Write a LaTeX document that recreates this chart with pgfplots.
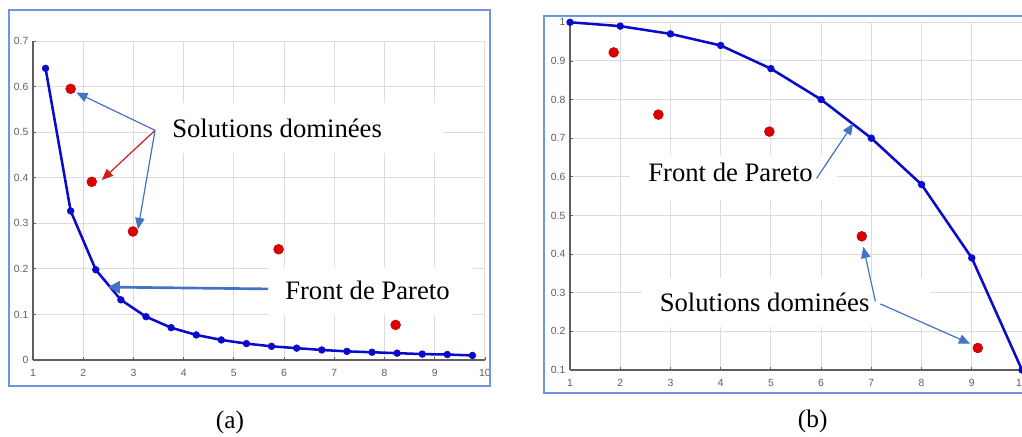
\documentclass[border=0pt]{standalone}
\usepackage{pgfplots}
\pgfplotsset{compat=1.18}
\usepackage{fontspec}
\setmainfont{Liberation Serif}
\newfontfamily\tickfont{Liberation Sans}
\usetikzlibrary{arrows.meta}
\definecolor{frameblue}{RGB}{110,150,220}
\definecolor{arrowblue}{RGB}{68,114,196}
\definecolor{lineblue}{RGB}{10,10,205}
\definecolor{dotred}{RGB}{220,0,0}
\definecolor{arrowred}{RGB}{205,30,30}
\definecolor{gridgray}{RGB}{220,220,220}
\definecolor{tickgray}{RGB}{95,95,95}
\pgfplotsset{
  mystyle/.style={
    scale only axis, axis lines*=left,
    xmin=1, xmax=10, xtick={1,2,3,4,5,6,7,8,9,10},
    grid=major, major grid style={gridgray, line width=0.75pt},
    axis line style={tickgray, line width=0.8pt},
    tick style={tickgray, line width=0.6pt},
    major tick length=2.5pt, tick align=inside,
    ticklabel style={font=\tickfont\fontsize{7.8}{8}\selectfont, text=tickgray},
    xticklabel style={yshift=-3.6pt},
    /pgf/number format/assume math mode=true,
    clip=false,
  },
}
\tikzset{
  front/.style={lineblue, line width=1.9pt, mark=*, mark size=2.5pt, mark options={fill=lineblue, draw=lineblue, line width=0.5pt}},
  dom/.style={only marks, mark=*, mark size=3.7pt, mark options={fill=dotred, draw=dotred!85!black, line width=0.4pt}},
  thinarrow/.style={arrowblue, line width=0.9pt, -{Triangle[length=8.5pt,width=7pt]}},
  bigfont/.style={font=\fontsize{20}{24}\selectfont}
}
\begin{document}
\begin{tikzpicture}
\path[use as bounding box, clip] (0,0) rectangle (766.5pt,327pt);
% ---------------- (a)
\begin{axis}[mystyle, at={(24.75pt,57pt)}, anchor=south west,
  width=339pt, height=239.25pt, ymin=0, ymax=0.7,
  ytick={0,0.1,0.2,0.3,0.4,0.5,0.6,0.7}]
\fill[white] (axis cs:3.29,0.454) rectangle (axis cs:9.17,0.564);
\fill[white] (axis cs:5.68,0.0987) rectangle (axis cs:9.76,0.204);
\addplot[front] coordinates {(1.25,0.640) (1.75,0.327) (2.25,0.198) (2.75,0.132) (3.25,0.095) (3.75,0.071) (4.25,0.055) (4.75,0.044) (5.25,0.036) (5.75,0.030) (6.25,0.026) (6.75,0.022) (7.25,0.019) (7.75,0.017) (8.25,0.015) (8.75,0.013) (9.25,0.012) (9.75,0.010)};
\addplot[dom] coordinates {(1.75,0.595) (2.17,0.391) (2.99,0.282) (5.89,0.243) (8.22,0.077)};
\draw[thinarrow] (axis cs:3.43,0.504) -- (axis cs:1.86,0.587);
\draw[thinarrow, arrowred] (axis cs:3.43,0.504) -- (axis cs:2.37,0.395);
\draw[thinarrow] (axis cs:3.43,0.504) -- (axis cs:3.09,0.287);
\draw[arrowblue, line width=2pt, -{Triangle[length=9pt,width=9pt]}] (axis cs:5.68,0.156) -- (axis cs:2.49,0.160);
\node[bigfont] at (axis cs:5.86,0.509) {Solutions dominées};
\node[bigfont] at (axis cs:7.66,0.1535) {Front de Pareto};
\end{axis}
% ---------------- (b)
\begin{axis}[mystyle, at={(427.5pt,49.5pt)}, anchor=south west,
  width=339pt, height=260.8pt, ymin=0.1, ymax=1,
  ytick={0.1,0.2,0.3,0.4,0.5,0.6,0.7,0.8,0.9,1}]
\fill[white] (axis cs:2.195,0.540) rectangle (axis cs:6.32,0.656);
\fill[white] (axis cs:2.434,0.2106) rectangle (axis cs:8.17,0.3375);
\addplot[front] coordinates {(1,1) (2,0.99) (3,0.97) (4,0.94) (5,0.88) (6,0.80) (7,0.70) (8,0.58) (9,0.39) (10,0.10)};
\addplot[dom] coordinates {(1.87,0.922) (2.76,0.761) (4.97,0.717) (6.81,0.446) (9.12,0.157)};
\draw[thinarrow] (axis cs:5.91,0.596) -- (axis cs:6.64,0.738);
\draw[thinarrow] (axis cs:7.08,0.278) -- (axis cs:6.84,0.419);
\draw[thinarrow] (axis cs:7.18,0.271) -- (axis cs:8.97,0.168);
\node[bigfont] at (axis cs:4.197,0.612) {Front de Pareto};
\node[bigfont] at (axis cs:4.875,0.2754) {Solutions dominées};
\end{axis}
% frames and captions
\draw[frameblue, line width=1.1pt] (6.75pt,37.5pt) rectangle (367.5pt,319.5pt);
\draw[frameblue, line width=1.1pt] (408pt,32.25pt) rectangle (775pt,315pt);
\node[font=\fontsize{19}{22}\selectfont] at (172.5pt,10.5pt) {(a)};
\node[font=\fontsize{19}{22}\selectfont] at (609.5pt,11.25pt) {(b)};
\end{tikzpicture}
\end{document}
